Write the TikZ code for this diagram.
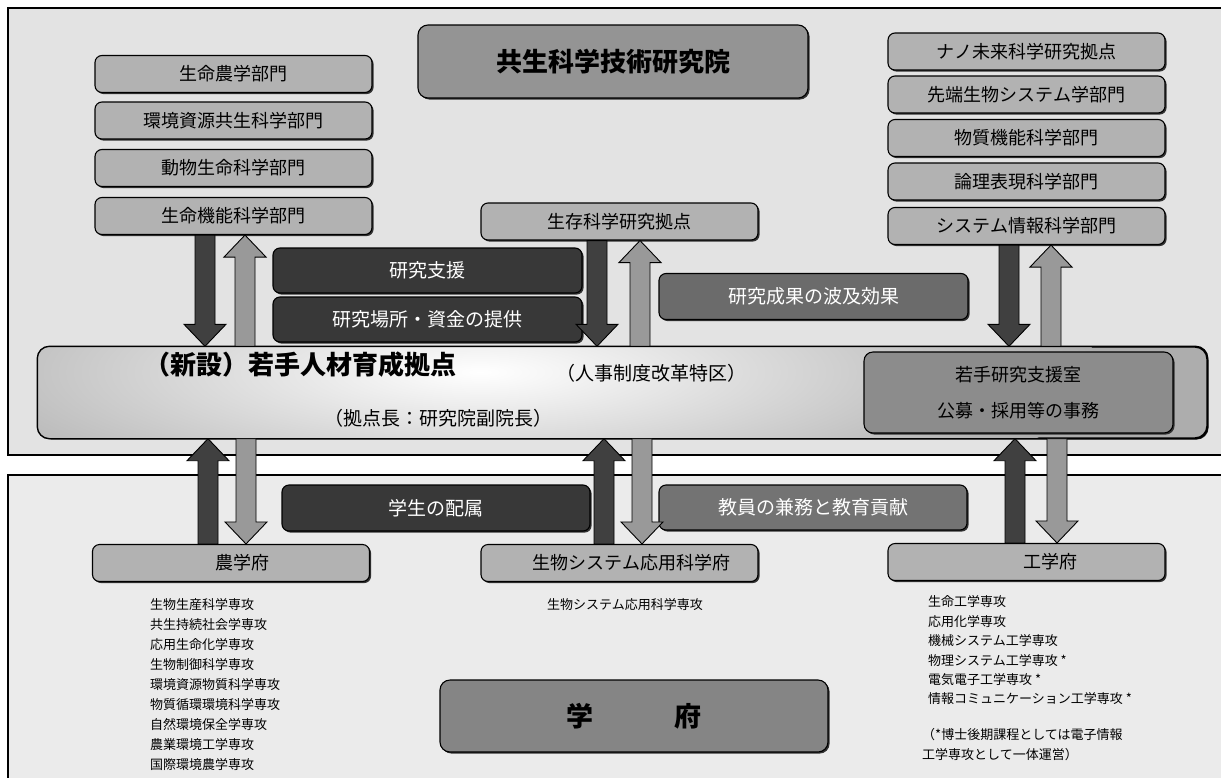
\documentclass[tikz,border=0pt]{standalone}
\usepackage{fontspec}
\setmainfont{Noto Sans CJK JP}
\usetikzlibrary{calc,shadows}
\newcommand\fsz[1]{\fontsize{#1}{#1}\selectfont}
\newcommand\blkdown[3]{\path[#1] let \p1=#2, \p2=#3 in
  (\x1-10pt,\y1) -- (\x1-10pt,\y2+22pt) -- (\x1-21pt,\y2+22pt) -- (\x1,\y2)
  -- (\x1+21pt,\y2+22pt) -- (\x1+10pt,\y2+22pt) -- (\x1+10pt,\y1) -- cycle;}
\newcommand\blkup[3]{\path[#1] let \p1=#2, \p2=#3 in
  (\x1-10pt,\y1) -- (\x1-10pt,\y2-22pt) -- (\x1-21pt,\y2-22pt) -- (\x1,\y2)
  -- (\x1+21pt,\y2-22pt) -- (\x1+10pt,\y2-22pt) -- (\x1+10pt,\y1) -- cycle;}
\begin{document}
\begin{tikzpicture}[x=1pt,y=-1pt,
  box/.style={draw=black, line width=1.1pt, rounded corners=7pt, inner sep=0pt,
    drop shadow={shadow xshift=1.6pt, shadow yshift=-1.6pt, fill=black!80, opacity=1}},
  dept/.style={box, fill=black!30, minimum width=277pt, minimum height=37pt, font=\fsz{18}},
  darkbox/.style={box, fill=black!78, text=white, minimum width=309pt, minimum height=45pt, font=\fsz{19}},
  midbox/.style={box, fill=black!58, text=white, minimum width=309pt, minimum height=46pt, font=\fsz{19}},
  darkarr/.style={draw=black, fill=black!75, line width=0.9pt},
  lightarr/.style={draw=black, fill=black!40, line width=0.9pt},
  lst/.style={font=\fsz{13}, inner sep=0pt, anchor=west},
  frame/.style={line width=1.5pt}]
\useasboundingbox (0,0) rectangle (1221,777);
\fill[white] (0,0) rectangle (1221,777);
% frames
\fill[black!11] (8,8) rectangle (1235,455);
\draw[frame] (8,8) rectangle (1235,455);
\fill[black!8] (8,475) rectangle (1235,790);
\draw[frame] (8,475) rectangle (1235,790);

% top left departments
\node[dept] (lb1) at (233.5,74) {生命農学部門};
\node[dept] (lb2) at (233.5,120.5) {環境資源共生科学部門};
\node[dept] (lb3) at (233.5,168) {動物生命科学部門};
\node[dept] (lb4) at (233.5,216) {生命機能科学部門};
% title
\node[box, fill=black!42, minimum width=390pt, minimum height=73pt, rounded corners=10pt,
  font=\bfseries\fsz{26}] (inst) at (613,61.5) {共生科学技術研究院};
% top right departments
\node[dept] (rb1) at (1026.5,51.5) {ナノ未来科学研究拠点};
\node[dept] (rb2) at (1026.5,94.5) {先端生物システム学部門};
\node[dept] (rb3) at (1026.5,138) {物質機能科学部門};
\node[dept] (rb4) at (1026.5,181.5) {論理表現科学部門};
\node[dept] (rb5) at (1026.5,226) {システム情報科学部門};
% middle
\node[dept] (surv) at (619.5,221.5) {生存科学研究拠点};
\node[darkbox] (sup1) at (427.5,270.5) {研究支援};
\node[darkbox] (sup2) at (427.5,319.5) {研究場所・資金の提供};
\node[midbox] (eff) at (813.5,296.5) {研究成果の波及効果};

% big box
\node[box, fill=black!32, rounded corners=12pt, minimum width=1169pt, minimum height=91pt,
  line width=1.4pt] (big) at (622.5,392.5) {};
\begin{scope}
  \clip[rounded corners=12pt] (big.north west) rectangle (big.south east);
  \shade[inner color=white, outer color=black!32] (480,372) ellipse [x radius=620, y radius=150];
\end{scope}
\draw[line width=1.4pt, rounded corners=12pt] (big.north west) rectangle (big.south east);
\node[font=\bfseries\fsz{26}] (hd) at (300,365) {（新設）若手人材育成拠点};
\node[font=\fsz{19}] (tk) at (651,373) {（人事制度改革特区）};
\node[font=\fsz{19}] (ch) at (438,418) {（拠点長：研究院副院長）};
\node[box, fill=black!45, rounded corners=9pt, minimum width=309pt, minimum height=81pt,
  align=center, font=\fontsize{18}{36}\selectfont] (wk) at (1018.5,392.5)
  {若手研究支援室\\公募・採用等の事務};

% bottom
\node[darkbox, minimum width=308pt, minimum height=46pt] (stu) at (436,508) {学生の配属};
\node[midbox, fill=black!55, minimum width=308pt, minimum height=45pt] (fac) at (813,507.5) {教員の兼務と教育貢献};
\node[dept] (nou) at (231,563) {\hspace*{22pt}農学府};
\node[dept] (bio) at (619.5,563) {\hspace*{24pt}生物システム応用科学府};
\node[dept] (eng) at (1026.5,562) {\hspace*{47pt}工学府};
\node[box, fill=black!48, rounded corners=10pt, minimum width=388pt, minimum height=72pt,
  font=\bfseries\fsz{27}] (gf) at (634,716) {学　　　府};

% lists
\foreach \t [count=\i from 0] in {生物生産科学専攻,共生持続社会学専攻,応用生命化学専攻,生物制御科学専攻,環境資源物質科学専攻,物質循環環境科学専攻,自然環境保全学専攻,農業環境工学専攻,国際環境農学専攻}
  \node[lst] (nl\i) at (150,{605+20*\i}) {\t};
\node[lst] (bl) at (547,605) {生物システム応用科学専攻};
\foreach \t [count=\i from 0] in {生命工学専攻,応用化学専攻,機械システム工学専攻,物理システム工学専攻 *,電気電子工学専攻 *,情報コミュニケーション工学専攻 *}
  \node[lst] (el\i) at (928,{602+19.4*\i}) {\t};
\node[lst] (n1) at (922,735) {（*博士後期課程としては電子情報};
\node[lst] (n2) at (922,755) {工学専攻として一体運営）};

% arrows top
\blkdown{darkarr}{(205,0 |- lb4.south)}{(205,0 |- big.north)}
\blkup{lightarr}{(245,0 |- big.north)}{(245,0 |- lb4.south)}
\blkdown{darkarr}{(597,0 |- surv.south)}{(597,0 |- big.north)}
\blkup{lightarr}{(640,0 |- big.north)}{(640,0 |- surv.south)}
\blkdown{darkarr}{(1009,0 |- rb5.south)}{(1009,0 |- big.north)}
\blkup{lightarr}{(1051,0 |- big.north)}{(1051,0 |- rb5.south)}
% arrows bottom
\blkup{darkarr}{(208,0 |- nou.north)}{(208,0 |- big.south)}
\blkdown{lightarr}{(246,0 |- big.south)}{(246,0 |- nou.north)}
\blkup{darkarr}{(604,0 |- bio.north)}{(604,0 |- big.south)}
\blkdown{lightarr}{(642,0 |- big.south)}{(642,0 |- bio.north)}
\blkup{darkarr}{(1015,0 |- eng.north)}{(1015,0 |- big.south)}
\blkdown{lightarr}{(1057,0 |- big.south)}{(1057,0 |- eng.north)}
\end{tikzpicture}
\end{document}
